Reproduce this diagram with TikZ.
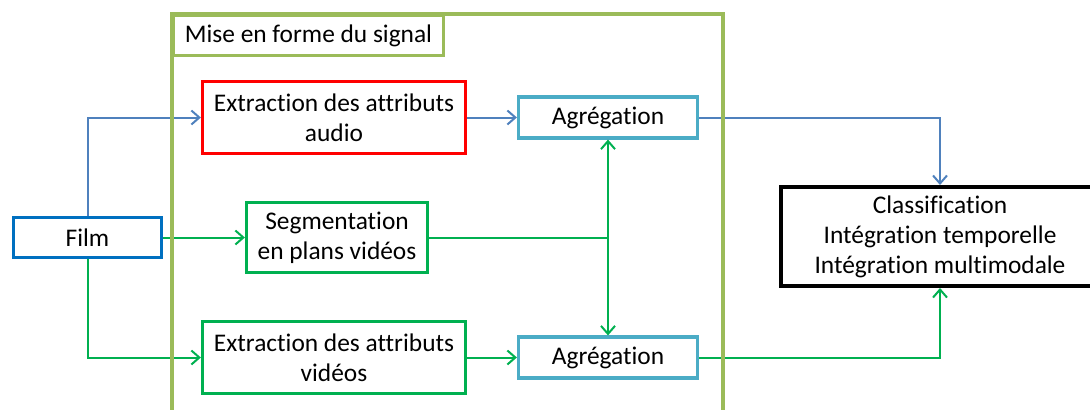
\documentclass[tikz,border=0pt]{standalone}
\usepackage{fontspec}
\setmainfont{Carlito}[Ligatures=NoCommon]
\usetikzlibrary{arrows.meta,calc}
\definecolor{cadre}{RGB}{155,187,89}
\definecolor{bleufilm}{RGB}{0,112,192}
\definecolor{bleuagr}{RGB}{75,172,198}
\definecolor{vertbloc}{RGB}{0,176,80}
\definecolor{bleuflux}{RGB}{79,129,189}

\begin{document}
\begin{tikzpicture}[x=0.5pt,y=-0.5pt,
  bloc/.style={draw,line width=1.6pt,fill=white,inner sep=0pt,align=center,font=\fontsize{12.7}{15}\selectfont},
  fleche/.style={line width=1pt,-{Straight Barb[length=4pt,width=7pt]}}]
\clip (0,0) rectangle (1090,409);
% blocs
\node[bloc,draw=bleufilm,minimum width=74pt,minimum height=20pt] (film) at (87.5,237.5) {Film};
\node[bloc,draw=red,minimum width=131.5pt,minimum height=36pt] (audio) at (334,117.5) {Extraction des attributs\\audio};
\node[bloc,draw=vertbloc,minimum width=90.5pt,minimum height=35pt] (seg) at (337,237.5) {Segmentation\\en plans vidéos};
\node[bloc,draw=vertbloc,minimum width=131.5pt,minimum height=36pt] (video) at (334,357.5) {Extraction des attributs\\vidéos};
\node[bloc,draw=bleuagr,minimum width=89.5pt,minimum height=20.5pt] (agrA) at (608,117.5) {Agrégation};
\node[bloc,draw=bleuagr,minimum width=89.5pt,minimum height=20.5pt] (agrB) at (608,357.5) {Agrégation};
\node[bloc,draw=black,line width=2pt,minimum width=159pt,minimum height=49.5pt] (classif) at (940,236.5) {Classification\\Intégration temporelle\\Intégration multimodale};
\coordinate (jonction) at (608,237.5);

% flux audio
\draw[fleche,bleuflux] (film.north) |- (audio.west);
\draw[fleche,bleuflux] (audio.east) -- (agrA.west);
\draw[fleche,bleuflux] (agrA.east) -| (classif.north);
% flux video
\draw[fleche,vertbloc] (film.east) -- (seg.west);
\draw[fleche,vertbloc] (film.south) |- (video.west);
\draw[fleche,vertbloc] (video.east) -- (agrB.west);
\draw[fleche,vertbloc] (seg.east) -- (jonction) -- (agrA.south);
\draw[fleche,vertbloc] (jonction) -- (agrB.north);
\draw[fleche,vertbloc] (agrB.east) -| (classif.south);

% cadre
\draw[cadre,line width=1.6pt] (172,420) -- (172,14) -- (723,14) -- (723,420);
\node[bloc,draw=cadre,minimum width=135pt,minimum height=20pt] (titre) at (308.5,35.5) {Mise en forme du signal};
\end{tikzpicture}
\end{document}
